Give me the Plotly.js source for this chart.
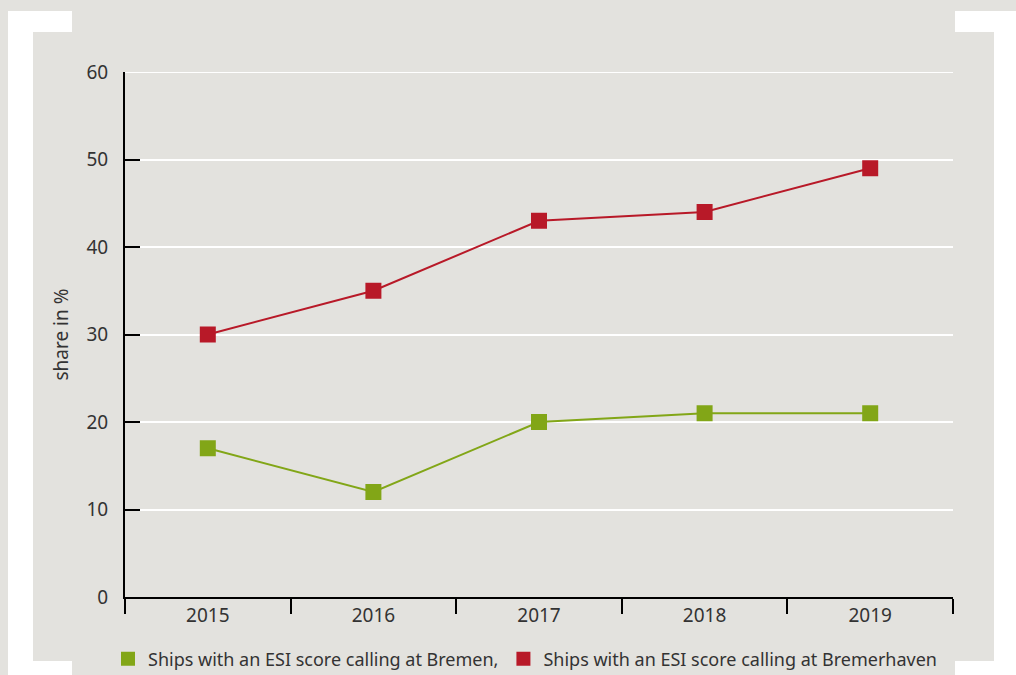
<!DOCTYPE html>
<html>
<head>
<meta charset="utf-8">
<script src="https://cdn.plot.ly/plotly-3.0.1.min.js"></script>
<style>
html,body{margin:0;padding:0;background:#e3e2de;}
#chart{width:1016px;height:675px;}
</style>
</head>
<body>
<div id="chart"></div>
<script>
var years = ["2015", "2016", "2017", "2018", "2019"];
var bremen = [17, 12, 20, 21, 21];
var bremerhaven = [30, 35, 43, 44, 49];
var seriesNames = ["Ships with an ESI score calling at Bremen,", "Ships with an ESI score calling at Bremerhaven"];
var yTicks = [0, 10, 20, 30, 40, 50, 60];

var GREEN = "#82a617", RED = "#b81928", BG = "#e3e2de";
var FONT = "Noto Sans, sans-serif";
var W = 1016, H = 675, ML = 125, MR = 63, MT = 72, MB = 78;
var PW = W - ML - MR, PH = H - MT - MB;
function px(x){ return (x - ML) / PW; }
function py(y){ return (H - MB - y) / PH; }
function rect(x0, y0, x1, y1){
  return {type:"rect", xref:"paper", yref:"paper", x0:px(x0), x1:px(x1), y0:py(y1), y1:py(y0),
          fillcolor:"#ffffff", line:{width:0}, layer:"below"};
}

var traces = [
  {x: years, y: bremen, type:"scatter", mode:"lines+markers", showlegend:false,
   line:{color:GREEN, width:2}, marker:{symbol:"square", size:16, color:GREEN}},
  {x: years, y: bremerhaven, type:"scatter", mode:"lines+markers", showlegend:false,
   line:{color:RED, width:2}, marker:{symbol:"square", size:16, color:RED}},
  {x:[null], y:[null], type:"scatter", mode:"markers", name:seriesNames[0],
   marker:{symbol:"square", size:14, color:GREEN}},
  {x:[null], y:[null], type:"scatter", mode:"markers", name:seriesNames[1],
   marker:{symbol:"square", size:14, color:RED}}
];

var shapes = [
  rect(8, 11, 33, 675), rect(8, 11, 72, 32), rect(8, 661, 72, 675),
  rect(994, 11, 1016, 675), rect(955, 11, 1016, 32), rect(955, 661, 1016, 675),
  {type:"line", xref:"paper", yref:"y", x0:0, x1:1, y0:yTicks[yTicks.length-1], y1:yTicks[yTicks.length-1],
   line:{color:"#ffffff", width:2}, layer:"below"}
];

var layout = {
  width: W, height: H,
  margin: {l:ML, r:MR, t:MT, b:MB, pad:0, autoexpand:false},
  paper_bgcolor: BG, plot_bgcolor: BG,
  font: {family: FONT, size: 19, color: "#333333"},
  showlegend: true,
  legend: {orientation:"h", x:px(108), xanchor:"left", y:py(659), yanchor:"middle",
           font:{family:FONT, size:18, color:"#333333"}, bgcolor:"rgba(0,0,0,0)",
           itemwidth:30, tracegroupgap:0, traceorder:"normal"},
  xaxis: {type:"category", categoryorder:"array", categoryarray: years, automargin:false,
          range:[-0.5, 4.5], tickson:"boundaries", ticks:"outside", ticklen:15,
          tickwidth:2, tickcolor:"#000", showline:true, linecolor:"#000", linewidth:2,
          showgrid:false, zeroline:false, fixedrange:true,
          tickfont:{family:FONT, size:19, color:"#333333"}},
  yaxis: {range:[0, 60], tickvals: yTicks, ticks:"inside", ticklen:15, tickwidth:2, automargin:false,
          tickcolor:"#000", showline:true, linecolor:"#000", linewidth:2,
          showgrid:true, gridcolor:"#ffffff", gridwidth:2, zeroline:false,
          ticklabelstandoff:11, fixedrange:true,
          tickfont:{family:FONT, size:19, color:"#333333"},
          title:{text:"share in %", font:{family:FONT, size:19, color:"#333333"}, standoff:13}},
  shapes: shapes
};

Plotly.newPlot("chart", traces, layout, {displayModeBar:false, staticPlot:true});
</script>
</body>
</html>
